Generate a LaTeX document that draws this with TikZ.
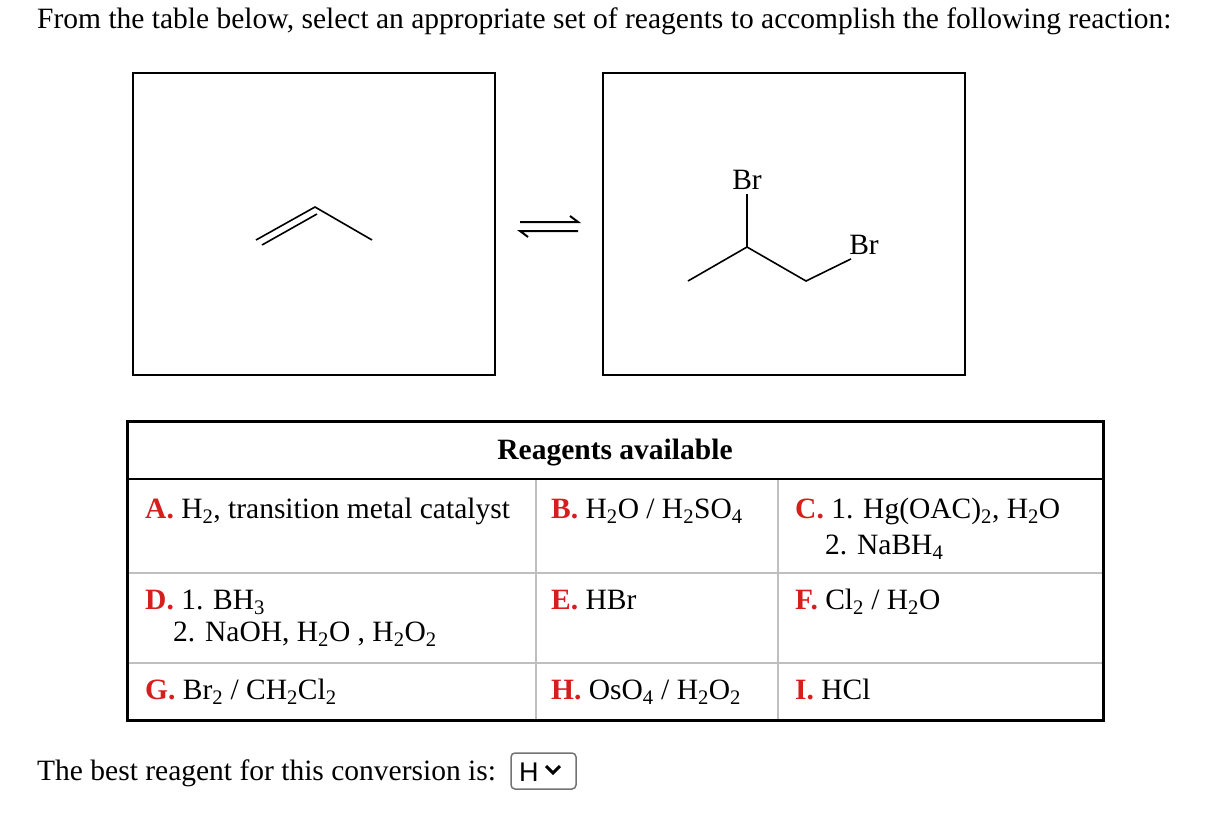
\documentclass[tikz,border=0pt]{standalone}
\usepackage{fontspec}
\setmainfont{Liberation Serif}
\newfontfamily\sansf{Liberation Sans}
\usetikzlibrary{arrows.meta}
\definecolor{lab}{RGB}{215,30,30}
\newcommand{\sub}[1]{\textsubscript{#1}}
\newcommand{\lb}[1]{\textcolor{lab}{\textbf{#1}}}
\begin{document}
\begin{tikzpicture}[x=1pt,y=-1pt,
  txt/.style={anchor=base west,inner sep=0pt,font=\fontsize{29.5}{34}\selectfont},
  bond/.style={line width=1.6pt},
  grid/.style={draw=black!25,line width=1.5pt}]
\useasboundingbox (0,0) rectangle (1226,816);
\node[txt] (title) at (37,29) {From the table below, select an appropriate set of reagents to accomplish the following reaction:};
\draw[line width=1.5pt] (133,73) rectangle (495,375);
\draw[line width=1.5pt] (603,73) rectangle (965,375);
% propene
\coordinate (p1) at (256,240); \coordinate (p2) at (315,207); \coordinate (p3) at (372,240);
\draw[bond] (p1) -- (p2) -- (p3);
\draw[bond] (262,245) -- (317,214);
% equilibrium
\draw[line width=2pt] (520,222) -- (578,222) -- (570,216);
\draw[line width=2pt] (578,231) -- (520,231) -- (528,237);
% product
\node[txt,anchor=center] (br1) at (747,180) {Br};
\node[txt,anchor=center] (br2) at (864,245) {Br};
\coordinate (c1) at (688,281); \coordinate (c2) at (747,247); \coordinate (c3) at (806,281);
\draw[bond] ([yshift=-4pt]br1.south) -- (c2);
\draw[bond] (c1) -- (c2) -- (c3) -- ([xshift=2pt,yshift=-4pt]br2.south west);
% table
\draw[grid] (127,573) -- (1103,573) (127,663) -- (1103,663);
\draw[grid] (536,479) -- (536,720) (778,479) -- (778,720);
\draw[line width=2.5pt] (127,479) -- (1103,479);
\draw[line width=3pt] (127,421) rectangle (1103,720);
\node[txt,anchor=base] (hdr) at (615,459) {\textbf{Reagents available}};
\node[txt] (a) at (145,518) {\lb{A.} H\sub{2}, transition metal catalyst};
\node[txt] (b) at (551,518) {\lb{B.} H\sub{2}O / H\sub{2}SO\sub{4}};
\node[txt] (c) at (795,518) {\lb{C.} 1. Hg(OAC)\sub{2}, H\sub{2}O};
\node[txt] (c2t) at (825,554) {2. NaBH\sub{4}};
\node[txt] (d) at (145,609) {\lb{D.} 1. BH\sub{3}};
\node[txt] (d2) at (173,641) {2. NaOH, H\sub{2}O , H\sub{2}O\sub{2}};
\node[txt] (e) at (551,609) {\lb{E.} HBr};
\node[txt] (f) at (795,609) {\lb{F.} Cl\sub{2} / H\sub{2}O};
\node[txt] (g) at (145,699) {\lb{G.} Br\sub{2} / CH\sub{2}Cl\sub{2}};
\node[txt] (h) at (551,699) {\lb{H.} OsO\sub{4} / H\sub{2}O\sub{2}};
\node[txt] (i) at (795,699) {\lb{I.} HCl};
\node[txt] (q) at (37,780) {The best reagent for this conversion is:};
\draw[black!55,line width=1.5pt,rounded corners=4pt] (511,753) rectangle (576,789);
\node[txt,font=\sansf\fontsize{27}{30}\selectfont] (hh) at (519,781) {H};
\draw[line width=3pt] (546,766) -- (553,773) -- (560,766);
\end{tikzpicture}
\end{document}
